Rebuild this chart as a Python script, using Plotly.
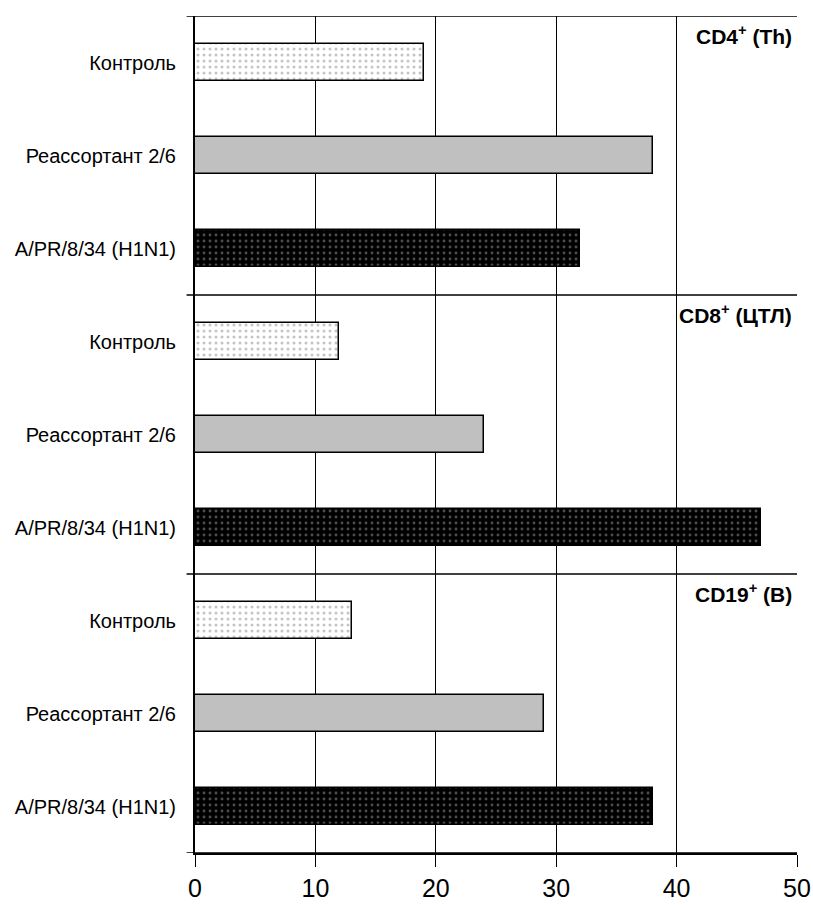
import plotly.graph_objects as go

groups = ["Контроль", "Реассортант 2/6", "A/PR/8/34 (H1N1)"]
panels = ["CD4<sup>+</sup> (Th)", "CD8<sup>+</sup> (ЦТЛ)", "CD19<sup>+</sup> (B)"]
control = [19, 12, 13]
reassortant = [38, 24, 29]
apr = [32, 47, 38]
x_ticks = [0, 10, 20, 30, 40, 50]

series = [control, reassortant, apr]
styles = [
    dict(color="white", line=dict(color="black", width=1.5),
         pattern=dict(shape=".", fgcolor="#8a8a8a", bgcolor="white", size=6, solidity=0.2)),
    dict(color="#c0c0c0", line=dict(color="black", width=1.5)),
    dict(color="black", line=dict(color="black", width=1.5),
         pattern=dict(shape=".", fgcolor="#9a9a9a", bgcolor="black", size=6, solidity=0.18)),
]

n_p = len(panels)
n_c = len(groups)
total = n_p * n_c

fig = go.Figure()
tickvals, ticktext = [], []
for c, (vals, st) in enumerate(zip(series, styles)):
    ys = [total - (p * n_c + c + 0.5) for p in range(n_p)]
    fig.add_trace(go.Bar(x=vals, y=ys, orientation="h", width=0.4,
                         marker=st, showlegend=False))
for p in range(n_p):
    for c in range(n_c):
        tickvals.append(total - (p * n_c + c + 0.5))
        ticktext.append(groups[c])

# panel boundary lines with left tick extension
for k in range(n_p + 1):
    yb = k * n_c
    fig.add_shape(type="line", xref="paper", yref="y", x0=-0.014, x1=1,
                  y0=yb, y1=yb, line=dict(color="black", width=1.3), layer="above")

for p, name in enumerate(panels):
    fig.add_annotation(x=1, xref="paper", y=total - p * n_c, yref="y",
                       xanchor="right", yanchor="top", xshift=-3, yshift=-4,
                       text="<b>" + name + "</b>", showarrow=False,
                       font=dict(family="Liberation Sans, Arial", size=21, color="black"))

fig.update_layout(
    width=813, height=905,
    margin=dict(l=195, r=16, t=16, b=52, autoexpand=False),
    plot_bgcolor="white", paper_bgcolor="white",
    font=dict(family="Liberation Sans, Arial", color="black"),
    bargap=0,
)
fig.update_xaxes(range=[0, 50], tickvals=x_ticks, showgrid=True, gridcolor="black",
                 gridwidth=1, zeroline=False, showline=True, linecolor="black", linewidth=1.5,
                 ticks="outside", ticklen=12, tickcolor="black", tickwidth=1.3,
                 automargin=False,
                 tickfont=dict(size=25, family="Liberation Sans, Arial"))
fig.update_yaxes(range=[0, total], tickvals=tickvals, ticktext=ticktext, showgrid=False,
                 zeroline=False, showline=True, linecolor="black", linewidth=2,
                 ticks="outside", ticklen=13, tickcolor="rgba(0,0,0,0)",
                 automargin=False,
                 tickfont=dict(size=20, family="Liberation Sans, Arial"))

fig.write_html("out.html", config={"displayModeBar": False},
               post_script="document.body.style.margin='0';document.body.style.overflow='hidden';")
